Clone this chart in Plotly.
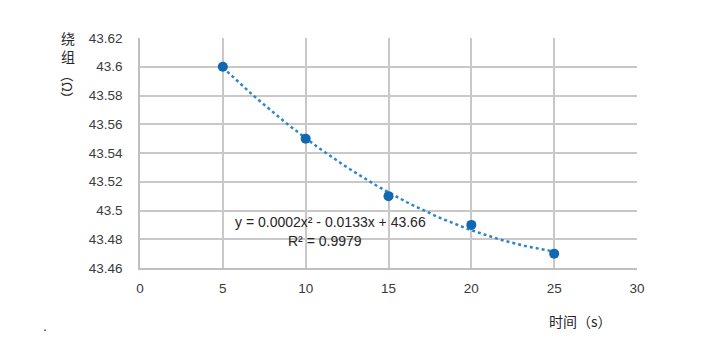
import numpy as np
import plotly.graph_objects as go

time_s = [5, 10, 15, 20, 25]
winding = [43.60, 43.55, 43.51, 43.49, 43.47]
x_ticks = [0, 5, 10, 15, 20, 25, 30]
y_ticks = [43.46, 43.48, 43.50, 43.52, 43.54, 43.56, 43.58, 43.60, 43.62]
y_tick_text = ["43.46", "43.48", "43.5", "43.52", "43.54", "43.56", "43.58", "43.6", "43.62"]
eq_text = "y = 0.0002x² - 0.0133x + 43.66"
r2_text = "R² = 0.9979"

coef = np.polyfit(time_s, winding, 2)
xf = np.linspace(min(time_s), max(time_s), 100)
yf = np.polyval(coef, xf)

# page body has an 8px default margin; compensate so the plot lands where intended
OFF = 8
W, H = 704, 349
l, r, t, b = 140 - OFF, 704 - 637 + OFF, 38 - OFF, 349 - 268 + OFF
pw, ph = W - l - r, H - t - b


def px(x):
    return (x - OFF - l) / pw


def py(y):
    return (H - b - (y - OFF)) / ph


def note(text, x, y, font, **kw):
    return dict(text=text, x=px(x), y=py(y), xref="paper", yref="paper",
                xanchor="center", yanchor="middle", showarrow=False, font=font, **kw)


font = "Liberation Sans, Arial, sans-serif"
cjk = "Noto Sans CJK SC"
fig = go.Figure()
fig.add_trace(go.Scatter(x=xf, y=yf, mode="lines",
                         line=dict(color="#2e86c8", width=2.5, dash="dot"),
                         hoverinfo="skip", showlegend=False))
fig.add_trace(go.Scatter(x=time_s, y=winding, mode="markers",
                         marker=dict(color="#1068b0", size=10),
                         showlegend=False))

txt = dict(size=14, color="#262626", family=font)
fig.update_layout(
    width=W, height=H,
    margin=dict(l=l, r=r, t=t, b=b, autoexpand=False),
    paper_bgcolor="white", plot_bgcolor="white",
    font=dict(family=font, size=13.5, color="#3a3a3a"),
    xaxis=dict(range=[0, 30], tickvals=x_ticks, showgrid=True, gridcolor="#c8c8c8",
               gridwidth=1.5, zeroline=False, showline=True, linecolor="#bfbfbf",
               linewidth=1.5, ticks="", ticklabelstandoff=7, automargin=False),
    yaxis=dict(range=[43.46, 43.62], tickvals=y_ticks, ticktext=y_tick_text,
               showgrid=True, gridcolor="#c8c8c8", gridwidth=1.5, zeroline=False,
               showline=True, linecolor="#bfbfbf", linewidth=1.5, ticks="",
               ticklabelstandoff=13, automargin=False),
    annotations=[
        note(eq_text, 330, 222, txt),
        note(r2_text, 325, 241, txt),
        note("时间（s）", 580, 321, dict(size=14, color="#262626", family=cjk)),
        note("绕<br>组", 68, 47, dict(size=14, color="#262626", family=cjk)),
        note("（Ω）", 68, 87, dict(size=13, color="#262626", family=cjk), textangle=90),
        note(".", 45, 326, dict(size=14, color="#333333")),
    ],
)
fig.write_html("out.html")
